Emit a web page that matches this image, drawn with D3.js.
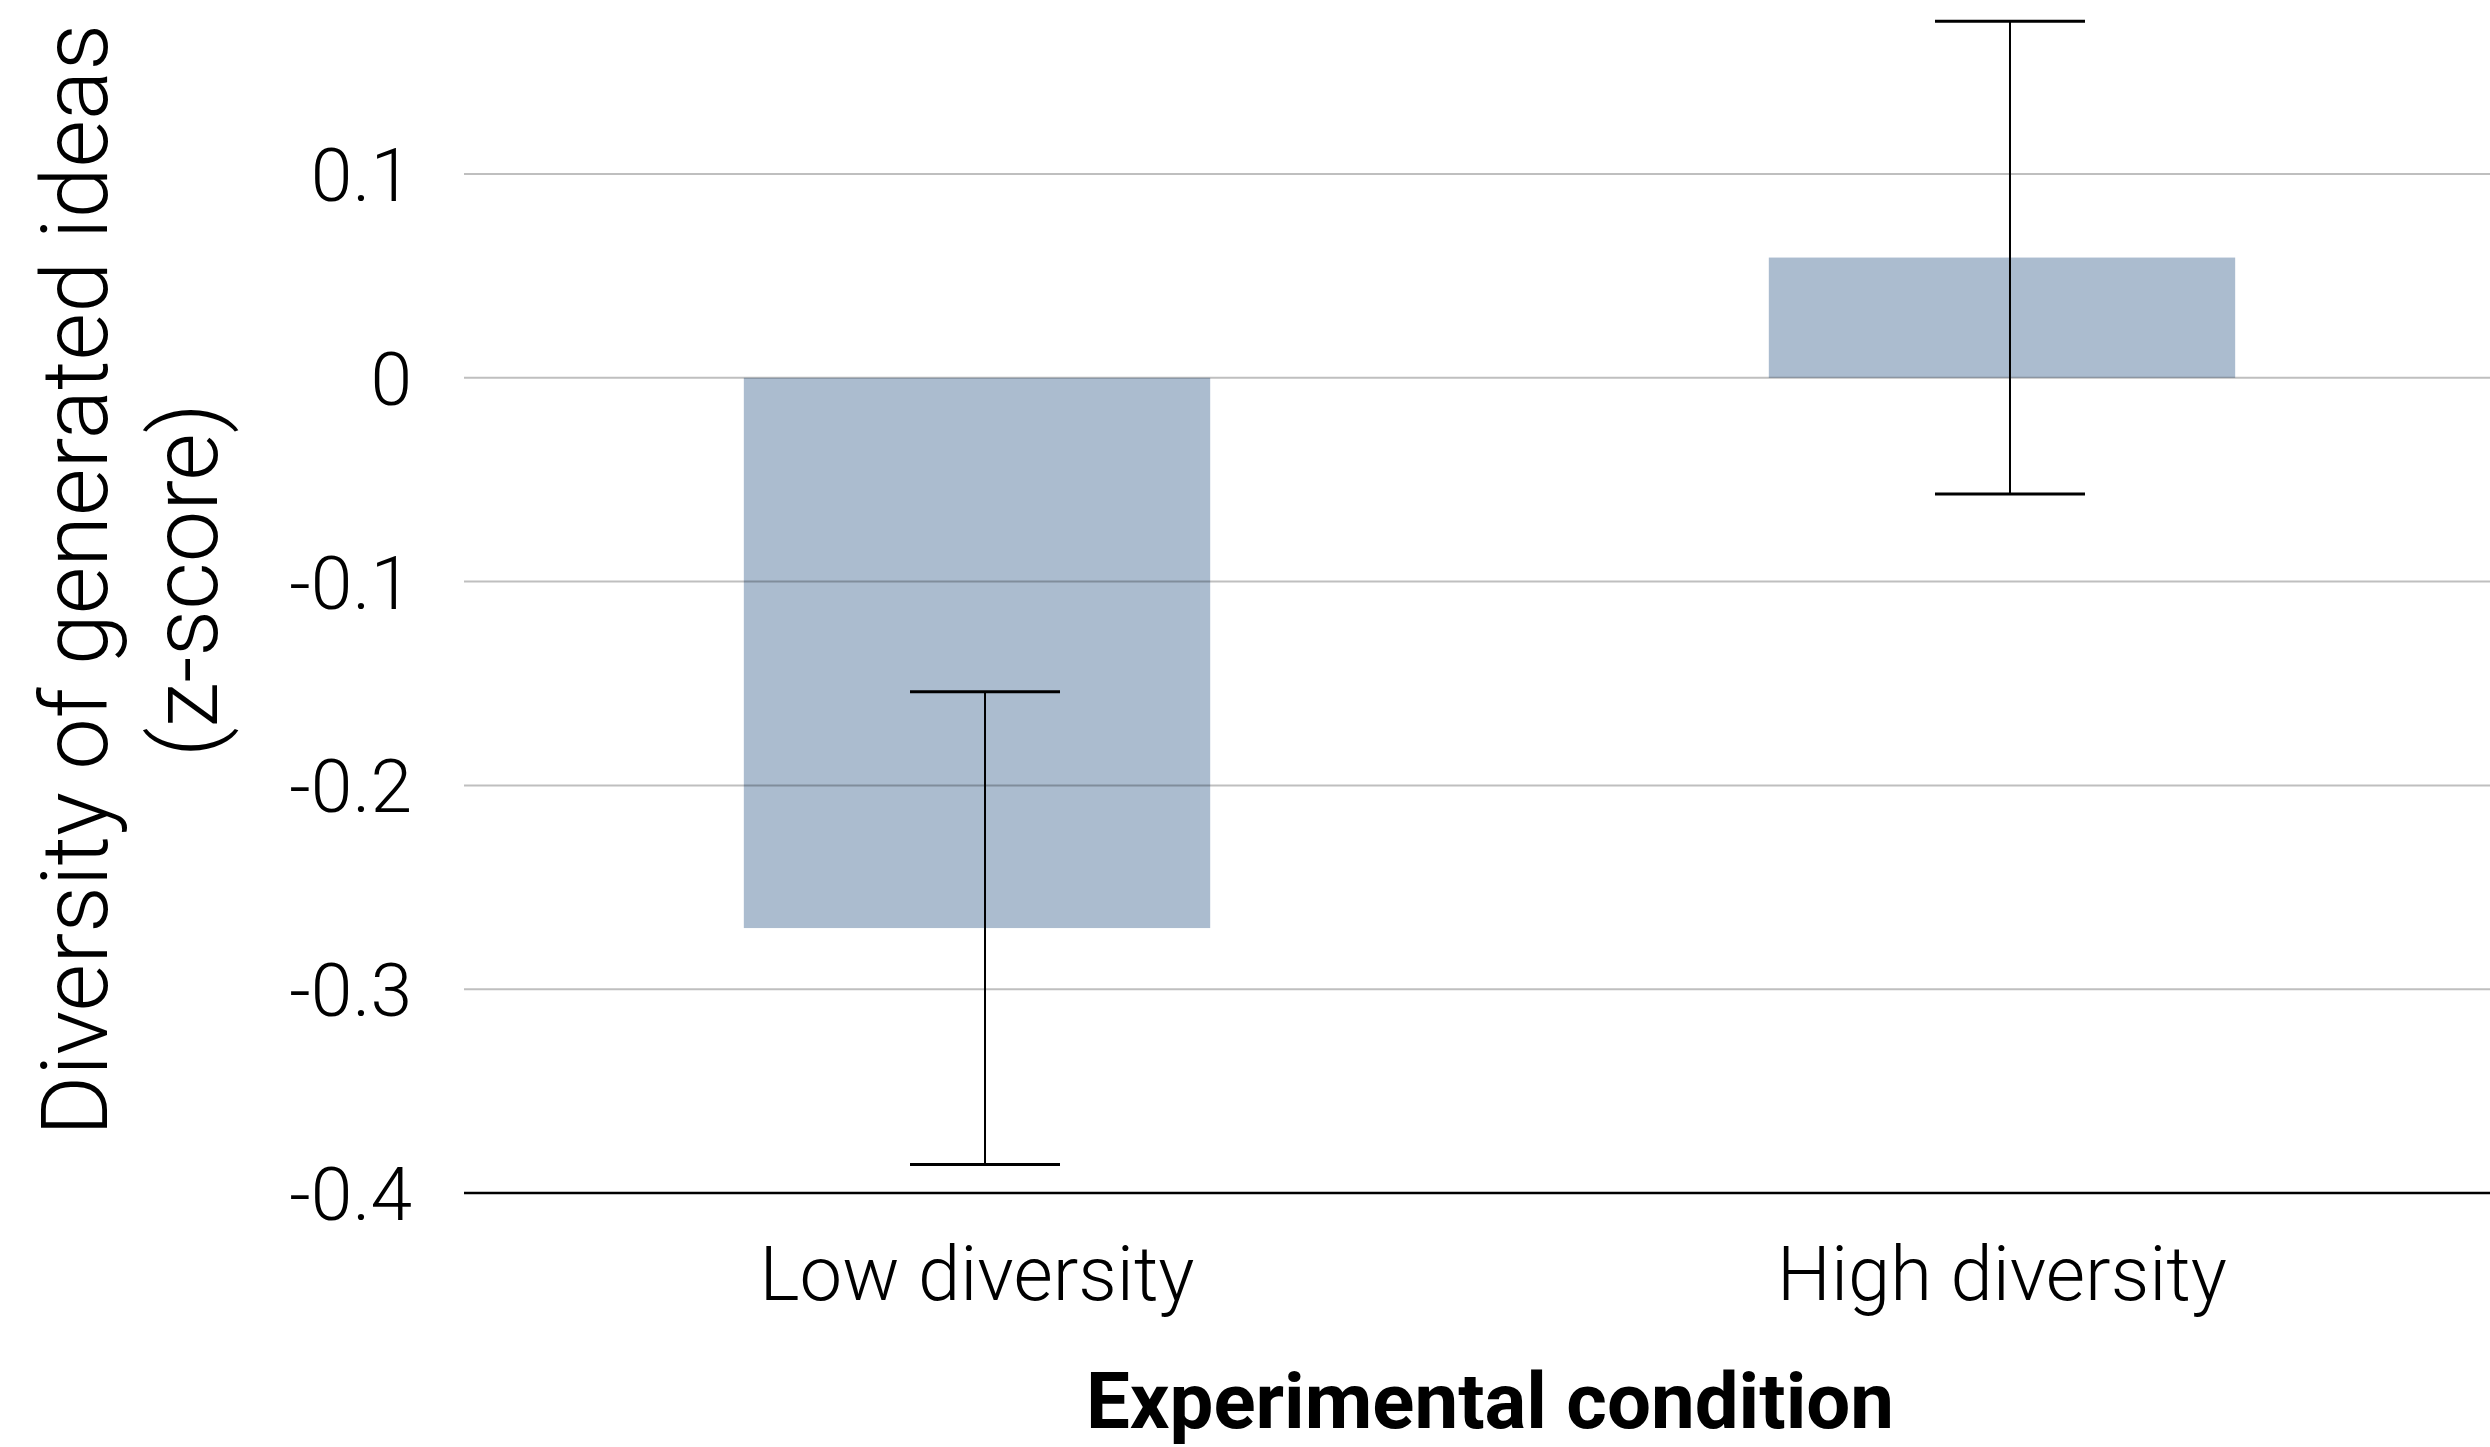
<html>
<head>
    <script src="https://cdn.jsdelivr.net/npm/d3@7"></script>
    <style>
        body { margin: 0; background: white; }
        svg { display: block; }
        text { font-family: "Helvetica Neue", Roboto, "Open Sans", sans-serif; fill: black; }
    </style>
</head>
<body>
    <svg id="chart"></svg>
<script>
    // data
    const conditions = ["Low diversity", "High diversity"];
    const means = [-0.270, 0.059];
    const errors = [0.116, 0.116];
    const yTicks = [0.1, 0, -0.1, -0.2, -0.3, -0.4];
    const yTickLabels = ["0.1", "0", "-0.1", "-0.2", "-0.3", "-0.4"];

    const width = 2490, height = 1447;
    const svg = d3.select("#chart").attr("width", width).attr("height", height);

    const x = d3.scaleBand()
        .domain(conditions)
        .range([464, 2515])
        .paddingInner(0.545)
        .paddingOuter(0.273);

    const y = d3.scaleLinear()
        .domain([-0.4, 0.1])
        .range([1193, 174]);

    // bars
    svg.append("g").selectAll("rect")
        .data(conditions)
        .enter().append("rect")
        .attr("x", d => x(d))
        .attr("width", x.bandwidth())
        .attr("y", (d, i) => y(Math.max(0, means[i])))
        .attr("height", (d, i) => Math.abs(y(means[i]) - y(0)))
        .attr("fill", "#abbccf");

    // gridlines (drawn over the bars, like the original)
    svg.append("g").selectAll("line")
        .data(yTicks.filter(t => t !== -0.4))
        .enter().append("line")
        .attr("x1", 464).attr("x2", width)
        .attr("y1", d => y(d)).attr("y2", d => y(d))
        .attr("stroke", "#000")
        .attr("stroke-opacity", 0.25)
        .attr("stroke-width", 2);

    // bottom axis line
    svg.append("line")
        .attr("x1", 464).attr("x2", width)
        .attr("y1", y(-0.4)).attr("y2", y(-0.4))
        .attr("stroke", "#000")
        .attr("stroke-width", 2.5);

    // error bars
    const errOffset = 8, capW = 150;
    const eb = svg.append("g").selectAll("g")
        .data(conditions)
        .enter().append("g")
        .attr("transform", d => "translate(" + (x(d) + x.bandwidth() / 2 + errOffset) + ",0)");

    eb.append("line")
        .attr("y1", (d, i) => y(means[i] + errors[i]))
        .attr("y2", (d, i) => y(means[i] - errors[i]))
        .attr("stroke", "#000").attr("stroke-width", 2);

    eb.selectAll(".cap")
        .data((d, i) => [means[i] + errors[i], means[i] - errors[i]])
        .enter().append("line")
        .attr("class", "cap")
        .attr("x1", -capW / 2).attr("x2", capW / 2)
        .attr("y1", v => y(v)).attr("y2", v => y(v))
        .attr("stroke", "#000").attr("stroke-width", 3);

    // y tick labels
    svg.append("g").selectAll("text")
        .data(yTicks)
        .enter().append("text")
        .attr("x", 412)
        .attr("y", d => y(d) + 27)
        .attr("text-anchor", "end")
        .style("font-size", "75px")
        .style("font-weight", 300)
        .text((d, i) => yTickLabels[i]);

    // x category labels
    svg.append("g").selectAll("text")
        .data(conditions)
        .enter().append("text")
        .attr("x", d => x(d) + x.bandwidth() / 2)
        .attr("y", 1300)
        .attr("text-anchor", "middle")
        .style("font-size", "76px")
        .style("font-weight", 300)
        .text(d => d);

    // x title
    svg.append("text")
        .attr("x", 1490)
        .attr("y", 1428)
        .attr("text-anchor", "middle")
        .style("font-size", "78px")
        .style("font-weight", 700)
        .text("Experimental condition");

    // y title, two lines
    const yt = svg.append("text")
        .attr("transform", "translate(0,580) rotate(-90)")
        .attr("text-anchor", "middle")
        .style("font-size", "92px")
        .style("font-weight", 300);
    yt.append("tspan").attr("x", 0).attr("y", 107).text("Diversity of generated ideas");
    yt.append("tspan").attr("x", 0).attr("y", 217).text("(z-score)");
</script>
</body>
</html>
